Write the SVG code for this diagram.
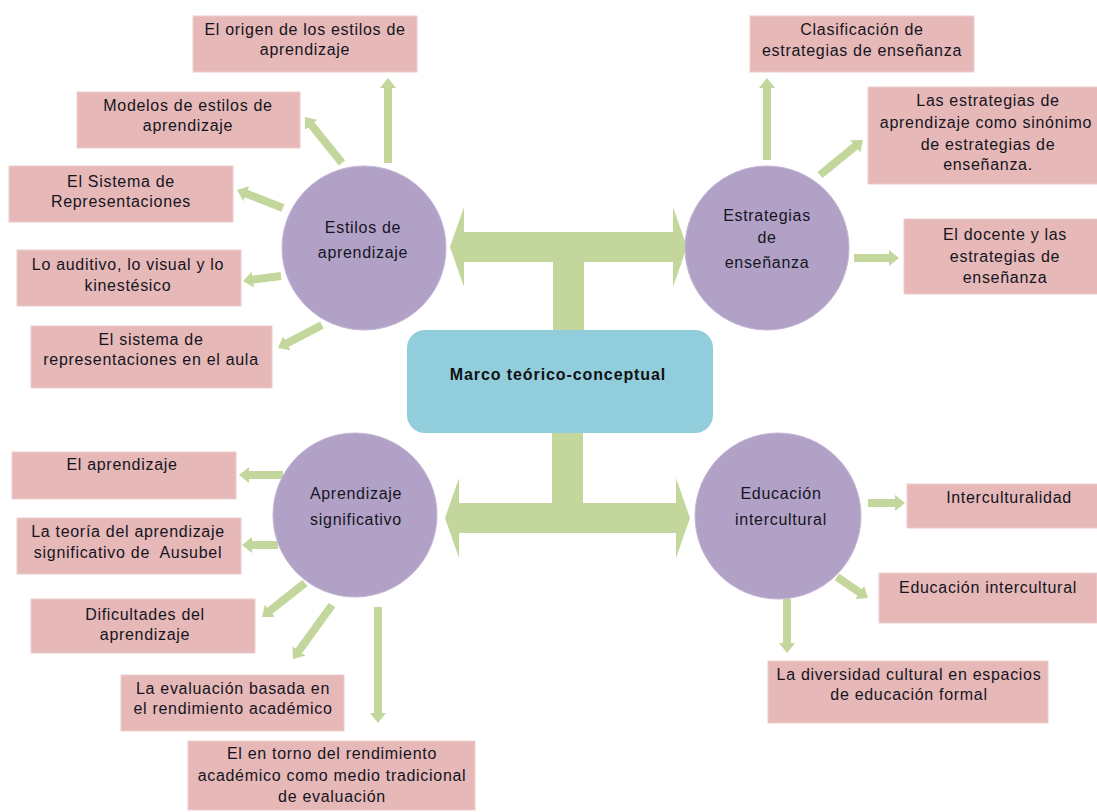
<svg xmlns="http://www.w3.org/2000/svg" width="1097" height="812" viewBox="0 0 1097 812">
<defs>
<style>
.box{fill:#E6B8B7;stroke:#EDCFCE;stroke-width:1}
.circ{fill:#B2A1C7;stroke:#C4B7D5;stroke-width:1}
.center{fill:#92CDDC}
.t{font-family:"Liberation Sans",Arial,sans-serif;font-size:16px;fill:#15151f;text-anchor:middle;letter-spacing:0.7px}
.tb{font-family:"Liberation Sans",Arial,sans-serif;font-size:16px;font-weight:bold;fill:#111;text-anchor:middle;letter-spacing:0.9px}
.arr{stroke:#C3D69B;stroke-width:8;fill:none;marker-end:url(#ah)}
.big{fill:#C3D69B}
</style>
<marker id="ah" viewBox="0 0 10 16" refX="1" refY="8" markerWidth="10" markerHeight="16" markerUnits="userSpaceOnUse" orient="auto">
<path d="M0,0 L10,8 L0,16 Z" fill="#C3D69B"/>
</marker>
</defs>
<rect width="1097" height="812" fill="#fff"/>

<g id="connectors">
<path class="big" d="M450,247 L464,207 L464,232 L673,232 L673,207 L687,247 L673,287 L673,262 L584,262 L584,330 L553,330 L553,262 L464,262 L464,287 Z"/>
<path class="big" d="M445,518 L459,478 L459,503 L552,503 L552,433 L583,433 L583,503 L676,503 L676,478 L690,518 L676,558 L676,533 L459,533 L459,558 Z"/>
<line class="arr" x1="388" y1="163" x2="388" y2="87"/>
<line class="arr" x1="342" y1="163" x2="310.6" y2="124"/>
<line class="arr" x1="283" y1="208" x2="245.4" y2="193.3"/>
<line class="arr" x1="281" y1="276" x2="251.9" y2="279.8"/>
<line class="arr" x1="322" y1="325" x2="286" y2="343.8"/>
<line class="arr" x1="767" y1="160" x2="767" y2="87"/>
<line class="arr" x1="820" y1="175" x2="856" y2="145.7"/>
<line class="arr" x1="854" y1="258" x2="890" y2="258"/>
<line class="arr" x1="283" y1="475" x2="248" y2="475"/>
<line class="arr" x1="278" y1="545" x2="251" y2="545"/>
<line class="arr" x1="305" y1="583" x2="269.1" y2="611.4"/>
<line class="arr" x1="332" y1="605" x2="298.3" y2="651.7"/>
<line class="arr" x1="378" y1="607" x2="378" y2="714"/>
<line class="arr" x1="868" y1="503" x2="896" y2="503"/>
<line class="arr" x1="837" y1="577" x2="860.5" y2="593"/>
<line class="arr" x1="787" y1="599" x2="787" y2="644"/>
</g>

<g id="marco">
<rect class="center" x="407" y="330" width="306" height="103" rx="18"/>
<text class="tb" x="558" y="380">Marco teórico-conceptual</text>
</g>

<g id="estilos">
<circle class="circ" cx="364" cy="248" r="82"/>
<text class="t" x="363" y="233">Estilos de</text>
<text class="t" x="363" y="258">aprendizaje</text>
</g>
<g id="estrategias">
<circle class="circ" cx="767" cy="248" r="82"/>
<text class="t" x="767" y="221">Estrategias</text>
<text class="t" x="767" y="243">de</text>
<text class="t" x="767" y="268">enseñanza</text>
</g>
<g id="aprendizaje-significativo">
<circle class="circ" cx="355" cy="515" r="82"/>
<text class="t" x="356" y="499">Aprendizaje</text>
<text class="t" x="356" y="525">significativo</text>
</g>
<g id="educacion-intercultural">
<circle class="circ" cx="778" cy="516" r="83"/>
<text class="t" x="781" y="499">Educación</text>
<text class="t" x="781" y="525">intercultural</text>
</g>

<g id="origen">
<rect class="box" x="193" y="16" width="224" height="56"/>
<text class="t" x="305" y="35">El origen de los estilos de</text>
<text class="t" x="305" y="55">aprendizaje</text>
</g>
<g id="modelos">
<rect class="box" x="77" y="92" width="223" height="56"/>
<text class="t" x="188" y="111">Modelos de estilos de</text>
<text class="t" x="188" y="131">aprendizaje</text>
</g>
<g id="sistema">
<rect class="box" x="9" y="166" width="224" height="56"/>
<text class="t" x="121" y="187">El Sistema de</text>
<text class="t" x="121" y="207">Representaciones</text>
</g>
<g id="auditivo">
<rect class="box" x="17" y="250" width="224" height="56"/>
<text class="t" x="128" y="270">Lo auditivo, lo visual y lo</text>
<text class="t" x="128" y="291">kinestésico</text>
</g>
<g id="sistema-aula">
<rect class="box" x="31" y="326" width="241" height="62"/>
<text class="t" x="151" y="345">El sistema de</text>
<text class="t" x="151" y="365">representaciones en el aula</text>
</g>

<g id="clasificacion">
<rect class="box" x="750" y="16" width="224" height="56"/>
<text class="t" x="862" y="35">Clasificación de</text>
<text class="t" x="862" y="56">estrategias de enseñanza</text>
</g>
<g id="sinonimo">
<rect class="box" x="868" y="87" width="240" height="97"/>
<text class="t" x="988" y="106">Las estrategias de</text>
<text class="t" x="986" y="128">aprendizaje como sinónimo</text>
<text class="t" x="988" y="150">de estrategias de</text>
<text class="t" x="988" y="170">enseñanza.</text>
</g>
<g id="docente">
<rect class="box" x="904" y="219" width="202" height="75"/>
<text class="t" x="1005" y="240">El docente y las</text>
<text class="t" x="1005" y="262">estrategias de</text>
<text class="t" x="1005" y="283">enseñanza</text>
</g>

<g id="el-aprendizaje">
<rect class="box" x="12" y="452" width="224" height="47"/>
<text class="t" x="122" y="470">El aprendizaje</text>
</g>
<g id="ausubel">
<rect class="box" x="17" y="518" width="224" height="56"/>
<text class="t" x="128" y="537">La teoría del aprendizaje</text>
<text class="t" x="128" y="558" xml:space="preserve">significativo de  Ausubel</text>
</g>
<g id="dificultades">
<rect class="box" x="31" y="599" width="224" height="54"/>
<text class="t" x="145" y="620">Dificultades del</text>
<text class="t" x="145" y="640">aprendizaje</text>
</g>
<g id="evaluacion">
<rect class="box" x="121" y="675" width="223" height="56"/>
<text class="t" x="233" y="694">La evaluación basada en</text>
<text class="t" x="233" y="714">el rendimiento académico</text>
</g>
<g id="en-torno">
<rect class="box" x="188" y="741" width="287" height="69"/>
<text class="t" x="332" y="759">El en torno del rendimiento</text>
<text class="t" x="332" y="781">académico como medio tradicional</text>
<text class="t" x="332" y="802">de evaluación</text>
</g>

<g id="interculturalidad">
<rect class="box" x="907" y="484" width="204" height="44"/>
<text class="t" x="1009" y="503">Interculturalidad</text>
</g>
<g id="educacion-box">
<rect class="box" x="879" y="573" width="218" height="50"/>
<text class="t" x="988" y="593">Educación intercultural</text>
</g>
<g id="diversidad">
<rect class="box" x="768" y="661" width="280" height="62"/>
<text class="t" x="909" y="680">La diversidad cultural en espacios</text>
<text class="t" x="909" y="700">de educación formal</text>
</g>
</svg>
